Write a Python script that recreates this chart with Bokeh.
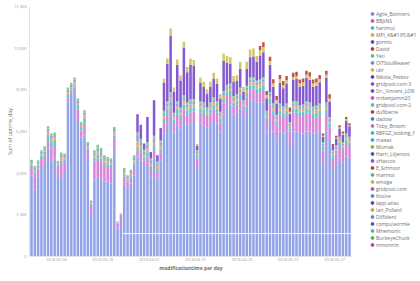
import pandas as pd
from bokeh.plotting import figure
from bokeh.layouts import row
from bokeh.models import (ColumnDataSource, Range1d, DatetimeTickFormatter, FixedTicker,
                          SingleIntervalTicker, NumeralTickFormatter, Legend, LegendItem,
                          CDSView, BooleanFilter)
from bokeh.embed import file_html
from bokeh.resources import INLINE

# ---------------- data ----------------
first_day = "2018-02-24"
tick_labels = ["2018-03-04", "2018-03-18", "2018-04-01", "2018-04-15",
               "2018-04-29", "2018-05-13", "2018-05-27"]

legend_names = ["Agile_Boincers", "BBJtNS", "hartmut", "MPI_4&#195;&#1", "gorinis", "David",
                "Yeti", "OITSoulReaver", "ukr", "Nikola_Petkov", "gridpool.com-3",
                "Dr._Vincent_LOR", "mrbenjamin20", "gridpool.com-2", "dufiberze", "dadow",
                "Toby_Broom", "RBFGZ_looking_f", "maeax", "Mumak", "Harri_Liljeroos", "xHascox",
                "E_Schnoor", "marmot", "emoga", "gridpool.com", "Kosice", "lapp-atlas",
                "Ian_Pollard", "Diffident", "computezrmle", "Mnemonic", "BuckeyeChuck", "mmonnin"]

diffident = [0, 0, 0, 0, 0, 0, 0, 0, 0, 0,
             0, 0, 0, 0, 0, 0, 0, 0, 0, 0,
             0, 0, 0, 0, 0, 0, 0, 0, 1100, 1100,
             1100, 1100, 1100, 1100, 1100, 1100, 1100, 1100, 1100, 1100,
             1100, 1100, 1100, 1100, 1100, 1100, 1100, 1100, 1100, 1100,
             1100, 1100, 1100, 1100, 1100, 1100, 1100, 1100, 1100, 1100,
             1100, 1100, 1100, 1100, 1100, 1100, 1100, 1100, 1100, 1100,
             1100, 1100, 1100, 1100, 1100, 1100, 1100, 1100, 1100, 1100,
             1100, 1100, 1100, 1100, 1100, 1100, 1100, 1100, 1100, 1100,
             1100, 1100, 1100, 1100, 1100, 1100, 1100]

agile = [3900, 3200, 3800, 4300, 4500, 5200, 4600, 4700, 4000, 3800,
         4200, 7400, 7700, 7900, 6500, 5700, 5800, 4700, 2000, 3700,
         3800, 3700, 3600, 3600, 3500, 5100, 1350, 1700, 2300, 2200,
         2400, 2800, 3700, 3500, 3200, 3400, 2700, 3600, 2700, 3500,
         4800, 5200, 5600, 4900, 5200, 5000, 5400, 5200, 5300, 5400,
         3200, 5300, 5200, 5100, 5200, 5400, 5300, 4900, 5700, 6100,
         6200, 5700, 5800, 6000, 5600, 6100, 6400, 6400, 6300, 6300,
         6300, 4900, 5400, 4900, 4500, 4900, 4800, 4900, 4200, 4900,
         4900, 4800, 4800, 4900, 4900, 4800, 4800, 4900, 3400, 4900,
         4400, 3100, 3300, 3600, 3400, 3700, 3600]

bbjtns = [350, 650, 420, 380, 350, 350, 650, 650, 250, 650,
          350, 200, 150, 200, 550, 350, 600, 450, 500, 900,
          900, 850, 750, 700, 800, 550, 250, 300, 450, 300,
          300, 400, 300, 400, 300, 300, 350, 400, 300, 400,
          500, 500, 500, 400, 500, 500, 550, 500, 500, 450,
          400, 500, 550, 450, 550, 550, 500, 450, 550, 500,
          450, 400, 400, 450, 350, 450, 480, 500, 450, 500,
          550, 500, 800, 800, 700, 800, 800, 800, 700, 900,
          900, 850, 850, 900, 850, 800, 800, 800, 600, 850,
          700, 500, 550, 600, 600, 650, 600]

hartmut = [150, 200, 150, 170, 180, 300, 250, 200, 100, 150,
           120, 150, 130, 120, 180, 120, 200, 100, 60, 150,
           200, 150, 150, 130, 100, 150, 30, 30, 100, 80,
           100, 150, 150, 150, 150, 200, 150, 200, 100, 150,
           200, 230, 250, 180, 230, 200, 250, 200, 230, 200,
           140, 200, 200, 180, 200, 210, 200, 180, 210, 200,
           200, 180, 180, 200, 160, 200, 220, 210, 210, 210,
           230, 180, 210, 200, 180, 200, 180, 200, 160, 200,
           200, 180, 200, 200, 200, 180, 200, 200, 140, 200,
           180, 140, 140, 160, 140, 160, 160]

mpi = [100, 120, 100, 100, 100, 160, 160, 160, 100, 150,
       110, 140, 140, 150, 140, 120, 170, 100, 50, 140,
       150, 160, 140, 140, 120, 170, 20, 20, 120, 90,
       110, 160, 280, 200, 150, 200, 170, 200, 140, 170,
       160, 170, 180, 130, 170, 140, 180, 160, 170, 160,
       100, 140, 140, 130, 140, 160, 140, 130, 160, 140,
       140, 130, 130, 140, 120, 140, 160, 160, 160, 160,
       170, 130, 160, 140, 130, 140, 130, 140, 120, 140,
       140, 130, 140, 140, 140, 130, 140, 140, 100, 140,
       130, 100, 100, 120, 100, 120, 120]

oit = [90, 100, 90, 90, 90, 140, 140, 140, 80, 140,
       100, 130, 130, 130, 130, 100, 150, 90, 50, 120,
       120, 150, 130, 120, 110, 150, 20, 20, 100, 80,
       100, 150, 250, 180, 130, 180, 150, 180, 130, 150,
       140, 150, 160, 110, 150, 120, 160, 140, 150, 140,
       90, 120, 120, 110, 120, 130, 120, 110, 130, 120,
       120, 110, 110, 120, 100, 120, 140, 130, 130, 130,
       150, 110, 130, 120, 110, 120, 110, 120, 100, 120,
       120, 110, 120, 120, 120, 110, 120, 120, 90, 120,
       110, 90, 90, 100, 90, 100, 100]

yeti = [60, 70, 60, 60, 70, 100, 100, 100, 60, 100,
        60, 90, 90, 90, 90, 70, 100, 60, 30, 90,
        200, 200, 90, 90, 80, 100, 10, 10, 80, 50,
        60, 100, 170, 120, 90, 120, 100, 120, 90, 100,
        100, 100, 110, 80, 100, 90, 110, 100, 100, 100,
        70, 90, 90, 80, 90, 100, 90, 80, 100, 90,
        90, 80, 80, 90, 70, 90, 100, 100, 100, 100,
        100, 80, 100, 90, 80, 90, 80, 90, 70, 90,
        90, 80, 90, 90, 90, 80, 90, 90, 70, 90,
        80, 70, 70, 70, 70, 70, 70]

gridpool3 = [0, 0, 0, 0, 0, 0, 0, 0, 0, 0,
             0, 0, 0, 0, 0, 0, 0, 0, 0, 0,
             0, 0, 0, 0, 0, 0, 0, 0, 0, 0,
             0, 0, 880, 680, 300, 1200, 300, 1700, 300, 600,
             1350, 1800, 2700, 1000, 1760, 1300, 2260, 1450, 1660, 1600,
             200, 900, 750, 650, 750, 900, 850, 640, 1450, 1050,
             960, 700, 650, 900, 400, 800, 960, 1000, 900, 1150,
             1200, 600, 1300, 800, 550, 990, 880, 960, 400, 1020,
             1070, 900, 900, 1120, 1090, 950, 950, 1010, 250, 1170,
             740, 200, 300, 400, 350, 600, 500]

ukr = [0, 0, 0, 0, 0, 0, 0, 0, 0, 0,
       0, 0, 0, 0, 0, 0, 0, 0, 0, 0,
       0, 0, 0, 0, 0, 0, 0, 0, 0, 0,
       0, 0, 0, 0, 0, 0, 0, 0, 0, 0,
       200, 260, 350, 210, 250, 250, 300, 250, 300, 280,
       100, 240, 240, 220, 240, 270, 250, 200, 350, 320,
       300, 260, 250, 350, 240, 350, 380, 390, 280, 260,
       260, 150, 190, 160, 150, 170, 150, 150, 100, 150,
       150, 150, 150, 150, 150, 150, 150, 150, 50, 150,
       150, 0, 50, 50, 50, 100, 50]

dufiberze = [0, 0, 0, 0, 0, 0, 0, 0, 0, 0,
             0, 0, 0, 0, 0, 0, 0, 0, 0, 0,
             0, 0, 0, 0, 0, 0, 0, 0, 0, 0,
             0, 0, 0, 0, 0, 0, 0, 0, 0, 0,
             0, 0, 0, 0, 0, 0, 0, 0, 0, 0,
             0, 0, 0, 0, 0, 0, 0, 0, 0, 0,
             0, 0, 0, 0, 0, 0, 0, 0, 0, 200,
             220, 200, 200, 200, 200, 200, 200, 200, 200, 200,
             200, 200, 200, 200, 200, 200, 200, 200, 100, 200,
             200, 100, 100, 100, 100, 100, 100]

# ---------------- styles ----------------
legend_colors = {
    "Agile_Boincers": "#6f87d8", "BBJtNS": "#bc52bc", "hartmut": "#3fb8c0",
    "MPI_4&#195;&#1": "#daa05d", "gorinis": "#3f51b5", "David": "#a83a3a", "Yeti": "#57c17b",
    "OITSoulReaver": "#5a8fd6", "ukr": "#cdb84a", "Nikola_Petkov": "#4845b0",
    "gridpool.com-3": "#7a4fd0", "Dr._Vincent_LOR": "#6a3fc4", "mrbenjamin20": "#b84fc8",
    "gridpool.com-2": "#4fc0a0", "dufiberze": "#b8403a", "dadow": "#4a78cc",
    "Toby_Broom": "#cc5fb4", "RBFGZ_looking_f": "#3fb4c4", "maeax": "#3fa4c8",
    "Mumak": "#78b84a", "Harri_Liljeroos": "#5a3fb8", "xHascox": "#8a4fd0",
    "E_Schnoor": "#b03a55", "marmot": "#3fb890", "emoga": "#a8c04a", "gridpool.com": "#a84fc0",
    "Kosice": "#3f8cc8", "lapp-atlas": "#5a3fc0", "Ian_Pollard": "#d09a55",
    "Diffident": "#4a8ad0", "computezrmle": "#3f55b5", "Mnemonic": "#3fb8a8",
    "BuckeyeChuck": "#4fb04f", "mmonnin": "#b03fc0"}

stack_keys = ["diffident", "agile", "bbjtns", "hartmut", "mpi", "oit", "yeti",
              "gridpool3", "ukr", "dufiberze"]
stack_colors = ["#93a3e7", "#93a3e7", "#d886d9", "#62c6cd", "#d8b07a", "#8aa6dc",
                "#7fcb93", "#8459d2", "#d5c76c", "#c4524a"]

FONT = "Open Sans"
DAY_MS = 86400000

dates = pd.date_range(first_day, periods=len(agile), freq="D")
source = ColumnDataSource(dict(
    x=dates + pd.Timedelta(hours=12),
    diffident=diffident, agile=agile, bbjtns=bbjtns, hartmut=hartmut, mpi=mpi,
    oit=oit, yeti=yeti, gridpool3=gridpool3, ukr=ukr, dufiberze=dufiberze))

x_start = dates[0] - pd.Timedelta(hours=2.4)
x_end = x_start + pd.Timedelta(days=97.5)

# ---------------- main chart ----------------
p = figure(width=352, height=281, x_axis_type="datetime",
           x_range=Range1d(x_start.to_pydatetime(), x_end.to_pydatetime()),
           y_range=Range1d(0, 12000),
           output_backend="svg", toolbar_location=None,
           min_border_left=29, min_border_right=0, min_border_top=6, min_border_bottom=25)
p.outline_line_color = None
p.grid.visible = False
p.background_fill_color = "white"
p.border_fill_color = "white"

p.vbar_stack(stack_keys, x="x", width=0.76 * DAY_MS, source=source,
             color=stack_colors, line_color=None)

# thin white separator on top of the lower blue series
booleans = [v > 0 for v in diffident]
p.scatter(x="x", y="diffident", source=source, marker="dash", size=3.5,
          line_color="white", line_width=0.9,
          view=CDSView(filter=BooleanFilter(booleans)))

tick_ms = [int(pd.Timestamp(t).value // 10**6) for t in tick_labels]
p.xaxis.ticker = FixedTicker(ticks=tick_ms)
fmt = "%Y-%m-%d"
p.xaxis.formatter = DatetimeTickFormatter(days=fmt, months=fmt, years=fmt, hours=fmt,
                                          hourmin=fmt, minutes=fmt, minsec=fmt,
                                          seconds=fmt, milliseconds=fmt, microseconds=fmt)
p.yaxis.ticker = SingleIntervalTicker(interval=2000)
p.yaxis.formatter = NumeralTickFormatter(format="0,0")

for ax in (p.xaxis[0], p.yaxis[0]):
    ax.major_tick_line_color = None
    ax.minor_tick_line_color = None
    ax.major_tick_out = 0
    ax.major_tick_in = 0
    ax.minor_tick_out = 0
    ax.minor_tick_in = 0
    ax.axis_line_color = "#e4e4e4"
    ax.major_label_text_font = FONT
    ax.major_label_text_font_size = "4px"
    ax.major_label_text_color = "#9a9a9a"
    ax.axis_label_text_font = FONT
    ax.axis_label_text_color = "#6e6e6e"
    ax.axis_label_text_line_height = 1.0

p.xaxis.axis_label = "modificationtime per day"
p.xaxis.axis_label_text_font_size = "5px"
p.xaxis.axis_label_text_font_style = "bold"
p.xaxis.major_label_standoff = 1
p.xaxis.axis_label_standoff = 1

p.yaxis.axis_label = "Sum of uptime_day"
p.yaxis.axis_label_text_font_size = "5.2px"
p.yaxis.axis_label_text_font_style = "normal"
p.yaxis.major_label_standoff = 3
p.yaxis.axis_label_standoff = -3

# ---------------- legend panel ----------------
q = figure(width=68, height=281, x_range=Range1d(0, 1), y_range=Range1d(0, 1),
           output_backend="svg", toolbar_location=None,
           min_border_left=0, min_border_right=0, min_border_top=0, min_border_bottom=0)
q.axis.visible = False
q.grid.visible = False
q.outline_line_color = None
q.background_fill_color = "white"
q.border_fill_color = "white"

items = []
for name in legend_names:
    r = q.scatter(x=[float("nan")], y=[float("nan")], marker="circle", size=4,
                  color=legend_colors[name])
    items.append(LegendItem(label=name, renderers=[r]))
legend = Legend(items=items, location=(16, 8),
                label_text_font=FONT, label_text_font_size="5px",
                label_text_color="#707070", label_text_line_height=1.0,
                glyph_width=8, glyph_height=7, label_height=7, label_standoff=0,
                spacing=0, padding=0, margin=0,
                border_line_color=None, background_fill_alpha=0)
q.add_layout(legend)

open("out.html", "w").write(file_html(row(p, q), INLINE))
